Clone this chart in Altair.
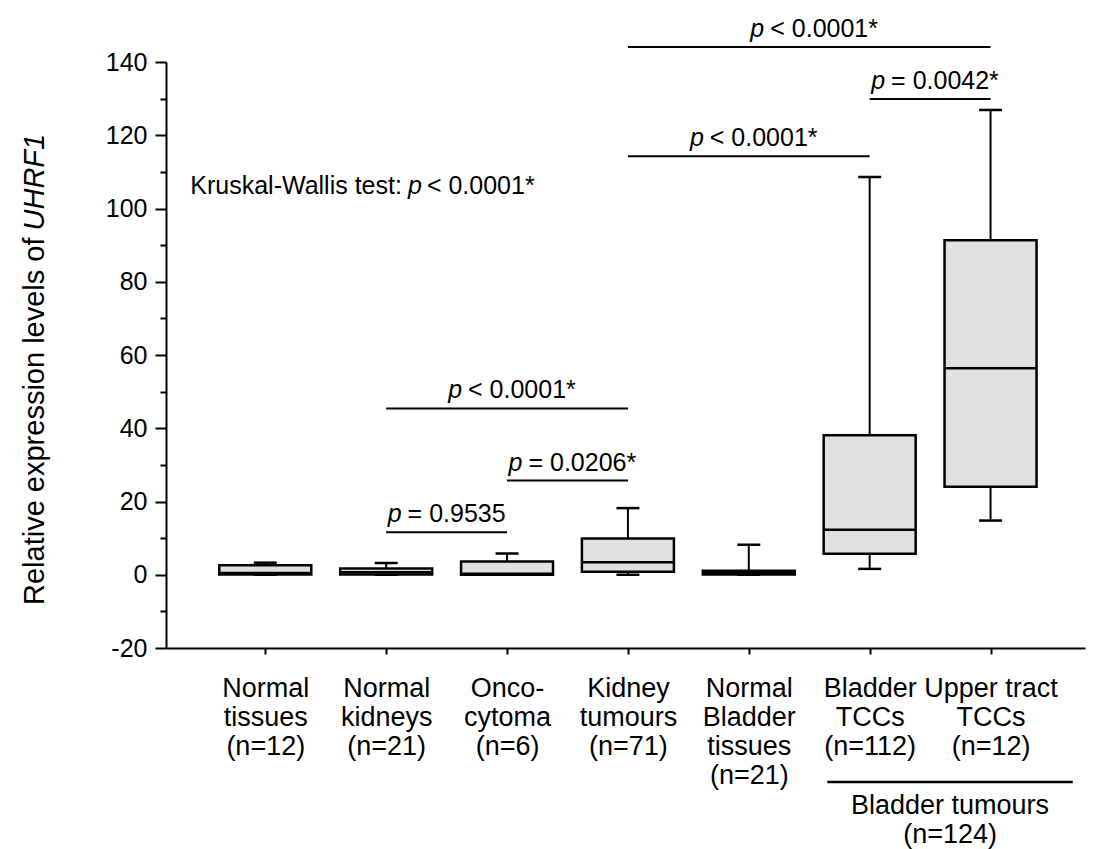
import altair as alt
import pandas as pd

# ---- data ----
categories = [
    ["Normal", "tissues", "(n=12)"],
    ["Normal", "kidneys", "(n=21)"],
    ["Onco-", "cytoma", "(n=6)"],
    ["Kidney", "tumours", "(n=71)"],
    ["Normal", "Bladder", "tissues", "(n=21)"],
    ["Bladder", "TCCs", "(n=112)"],
    ["Upper tract", "TCCs", "(n=12)"],
]
whisker_low = [0.0, 0.0, 0.0, 0.0, 0.0, 1.6, 14.8]
q1 = [0.1, 0.1, 0.0, 0.8, 0.1, 5.7, 24.0]
median = [0.5, 0.7, 0.3, 3.4, 0.4, 12.3, 56.4]
q3 = [2.6, 1.7, 3.6, 9.9, 1.1, 38.1, 91.3]
whisker_high = [3.3, 3.2, 5.8, 18.2, 8.2, 108.6, 126.9]

# comparison brackets (category numbers, height, text after the italic p)
br_from = [2, 3, 2, 4, 6, 4]
br_to = [3, 4, 4, 6, 7, 7]
br_y = [11.6, 25.7, 45.4, 114.3, 129.9, 144.1]
br_text = ["= 0.9535", "= 0.0206*", "< 0.0001*", "< 0.0001*", "= 0.0042*", "< 0.0001*"]

kw_pre = ["Kruskal-Wallis test:"]
kw_post = ["< 0.0001*"]
kw_x = [2.18]
kw_y = [104.0]

group_text = ["Bladder tumours", "(n=124)"]
group_x1 = [5.65]
group_x2 = [7.68]
group_y = [-56.6]
group_text_y = [-59.6]

title_pre = ["Relative expression levels of"]
title_it = ["UHRF1"]
title_x = [-0.83]
title_y = [94.0]

y_ticks = list(range(-20, 141, 10))

# ---- tables ----
n = len(categories)
boxes = pd.DataFrame({
    "pos": list(range(1, n + 1)),
    "lo": whisker_low, "q1": q1, "med": median, "q3": q3, "hi": whisker_high,
})
brackets = pd.DataFrame({"x1": br_from, "x2": br_to, "y": br_y, "txt": br_text})
kw = pd.DataFrame({"x": kw_x, "y": kw_y, "pre": kw_pre, "post": kw_post})
grp = pd.DataFrame({"x1": group_x1, "x2": group_x2, "y": group_y, "ty": group_text_y,
                    "t": [group_text]})
ttl = pd.DataFrame({"x": title_x, "y": title_y, "pre": title_pre, "it": title_it})

label_expr = "[" + ",".join(
    "[" + ",".join("'" + s + "'" for s in lines) + "]" for lines in categories
) + "][datum.value - 1]"

xs = alt.Scale(domain=[0.22, 7.74], nice=False, zero=False)
ys = alt.Scale(domain=[-20, 140], nice=False, zero=False)

FONT = "Liberation Sans, Arial, sans-serif"
NARROW = "Liberation Sans Narrow, Arial Narrow, Liberation Sans, sans-serif"
AFS = 25

x_axis = alt.Axis(
    values=list(range(1, n + 1)), labelExpr=label_expr, title=None,
    tickSize=6, labelPadding=21, labelFont=NARROW, labelFontSize=27,
    labelLineHeight=29, labelBaseline="top", labelAlign="center",
    labelColor="black", domainColor="black", domainWidth=2,
    tickColor="black", tickWidth=2, grid=False, labelOverlap=False,
)
y_axis = alt.Axis(
    values=y_ticks,
    labelExpr="datum.value % 20 === 0 ? ('' + datum.value) : ''",
    title=None,
    tickSize={"condition": {"test": "datum.value % 20 === 0", "value": 11}, "value": 6},
    labelPadding=8, labelFont=FONT, labelFontSize=25, labelColor="black",
    domainColor="black", domainWidth=2, tickColor="black", tickWidth=2, grid=False,
    labelOverlap=False,
)


def X(f):
    return alt.X(f, scale=xs, axis=x_axis, title=None)


def Y(f):
    return alt.Y(f, scale=ys, axis=y_axis, title=None)


base = alt.Chart(boxes)

whisk = base.mark_rule(color="black", strokeWidth=2).encode(
    x=X("pos:Q"), y=Y("lo:Q"), y2="hi:Q",
)
caps = base.transform_fold(["lo", "hi"], as_=["k", "v"]).mark_tick(
    orient="horizontal", size=23, thickness=2.5, color="black", opacity=1
).encode(x=X("pos:Q"), y=Y("v:Q"))
box = base.mark_bar(size=92, fill="#e0e0e0", stroke="black", strokeWidth=2.5,
                    opacity=1).encode(
    x=X("pos:Q"), y=Y("q1:Q"), y2="q3:Q",
)
med = base.mark_tick(orient="horizontal", size=92, thickness=2.5, color="black",
                     opacity=1).encode(x=X("pos:Q"), y=Y("med:Q"))

br = alt.Chart(brackets).transform_calculate(mid="(datum.x1 + datum.x2) / 2")
br_lines = br.mark_rule(color="black", strokeWidth=2, clip=False).encode(
    x=X("x1:Q"), x2="x2:Q", y=Y("y:Q"),
)
br_p = br.mark_text(
    text="p", font=FONT, fontSize=AFS, fontStyle="italic", align="right",
    baseline="alphabetic", dx=-45, dy=-10, color="black", clip=False,
).encode(x=X("mid:Q"), y=Y("y:Q"))
br_t = br.mark_text(
    font=FONT, fontSize=AFS, align="left", baseline="alphabetic",
    dx=-39, dy=-10, color="black", clip=False,
).encode(x=X("mid:Q"), y=Y("y:Q"), text="txt:N")

k = alt.Chart(kw)
kw_a = k.mark_text(font=FONT, fontSize=AFS, align="right", baseline="alphabetic",
                   dx=-6, color="black").encode(x=X("x:Q"), y=Y("y:Q"), text="pre:N")
kw_b = k.mark_text(text="p", font=FONT, fontSize=AFS, fontStyle="italic", align="left",
                   baseline="alphabetic", color="black").encode(x=X("x:Q"), y=Y("y:Q"))
kw_c = k.mark_text(font=FONT, fontSize=AFS, align="left", baseline="alphabetic",
                   dx=19, color="black").encode(x=X("x:Q"), y=Y("y:Q"), text="post:N")

g = alt.Chart(grp).transform_calculate(mid="(datum.x1 + datum.x2) / 2")
g_line = g.mark_rule(color="black", strokeWidth=2.5, clip=False).encode(
    x=X("x1:Q"), x2="x2:Q", y=Y("y:Q"))
g_text = g.mark_text(
    font=NARROW, fontSize=27, lineHeight=29, align="center", baseline="top",
    color="black", clip=False).encode(x=X("mid:Q"), y=Y("ty:Q"), text="t")

t = alt.Chart(ttl)
t_a = t.mark_text(font=FONT, fontSize=29, angle=270, align="right", baseline="alphabetic",
                  dx=-7, color="black", clip=False).encode(
    x=X("x:Q"), y=Y("y:Q"), text="pre:N")
t_b = t.mark_text(font=FONT, fontSize=29, fontStyle="italic", angle=270, align="left",
                  baseline="alphabetic", color="black", clip=False).encode(
    x=X("x:Q"), y=Y("y:Q"), text="it:N")

chart = alt.layer(
    whisk, caps, box, med, br_lines, br_p, br_t, kw_a, kw_b, kw_c, g_line, g_text, t_a, t_b
).properties(
    width=919, height=586,
    autosize=alt.AutoSizeParams(type="none"),
    padding={"left": 158, "top": 54, "right": 16, "bottom": 205},
    background="white",
).configure_view(stroke=None)

chart.save("out.html", embed_options={"renderer": "svg", "actions": False})
